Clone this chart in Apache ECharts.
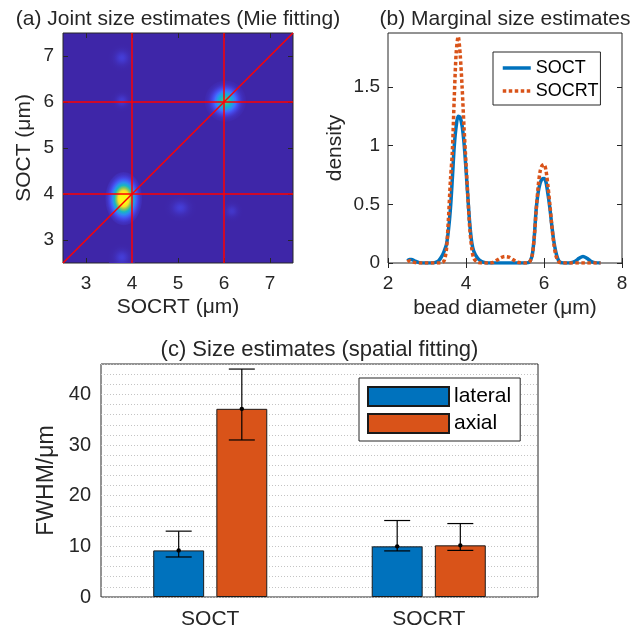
<!DOCTYPE html>
<html>
<head>
<meta charset="utf-8">
<script src="https://cdn.jsdelivr.net/npm/echarts@6/dist/echarts.min.js"></script>
<style>
  html, body { margin: 0; padding: 0; background: #fff; }
  #chart { width: 642px; height: 631px; }
</style>
</head>
<body>
<div id="chart"></div>
<script>
const FONT = '"Liberation Sans", Arial, sans-serif';
const INK = '#262626';

// (a) joint size estimates: density blobs
// centre (um), radius (um) and peak level in colormap units
const blobX = [3.82, 6.03, 3.78, 3.78, 3.78, 5.05, 6.17];
const blobY = [3.90, 6.02, 6.96, 6.03, 2.62, 3.70, 3.63];
const blobRX = [0.40, 0.45, 0.30, 0.25, 0.30, 0.35, 0.25];
const blobRY = [0.58, 0.45, 0.30, 0.25, 0.30, 0.30, 0.25];
const blobPeak = [1.4, 0.62, 0.07, 0.06, 0.07, 0.07, 0.05];
const aTicks = [3, 4, 5, 6, 7];
const refLines = [4, 6];
const aRange = [2.5, 7.5];

// (b) marginal size estimates
const diam = [2.5, 2.55, 2.6, 2.7, 2.8, 2.9, 3.0, 3.1, 3.2, 3.3, 3.4, 3.45, 3.5, 3.55, 3.6, 3.65, 3.7, 3.75, 3.8, 3.85,
  3.9, 3.95, 4.0, 4.05, 4.1, 4.15, 4.2, 4.3, 4.4, 4.5, 4.6, 4.7, 4.8, 4.9, 5.0, 5.1, 5.2, 5.3, 5.4, 5.5,
  5.6, 5.65, 5.7, 5.75, 5.8, 5.85, 5.9, 5.95, 6.0, 6.05, 6.1, 6.15, 6.2, 6.25, 6.3, 6.35, 6.4, 6.5, 6.6, 6.7,
  6.8, 6.9, 7.0, 7.1, 7.2, 7.3, 7.45];
const densSOCT = [0.02, 0.03, 0.03, 0.015, 0.003, 0, 0, 0, 0.003, 0.02, 0.07, 0.11, 0.16, 0.28, 0.46, 0.72, 1.0, 1.17, 1.25, 1.24,
  1.17, 1.02, 0.80, 0.55, 0.32, 0.17, 0.10, 0.04, 0.012, 0.002, 0, 0, 0, 0, 0, 0, 0, 0, 0, 0,
  0.003, 0.02, 0.07, 0.22, 0.46, 0.60, 0.68, 0.715, 0.72, 0.69, 0.59, 0.47, 0.32, 0.19, 0.10, 0.04, 0.01, 0, 0, 0.002,
  0.015, 0.04, 0.055, 0.04, 0.015, 0.003, 0];
const densSOCRT = [0.01, 0.02, 0.015, 0.003, 0, 0, 0, 0, 0, 0, 0.004, 0.03, 0.12, 0.38, 0.70, 0.95, 1.42, 1.80, 1.93, 1.78,
  1.50, 1.15, 0.85, 0.55, 0.28, 0.12, 0.04, 0.005, 0, 0, 0, 0.005, 0.025, 0.045, 0.055, 0.05, 0.03, 0.01, 0.002, 0,
  0.003, 0.02, 0.07, 0.22, 0.45, 0.65, 0.78, 0.83, 0.84, 0.79, 0.66, 0.50, 0.32, 0.17, 0.07, 0.025, 0.005, 0, 0, 0,
  0, 0, 0, 0, 0, 0, 0];
const bTicksX = [2, 4, 6, 8];
const bTicksY = [0, 0.5, 1, 1.5];

// (c) size estimates, spatial fitting
const categories = ['SOCT', 'SOCRT'];
const lateralMean = [9.2, 10.0];
const lateralLow = [7.9, 9.1];
const lateralHigh = [13.0, 15.1];
const axialMean = [37.15, 10.2];
const axialLow = [31.0, 9.2];
const axialHigh = [45.0, 14.5];
const cTicksY = [0, 10, 20, 30, 40];

// parula colormap
const parulaStops = [
  [62, 38, 168], [71, 71, 235], [62, 111, 255], [39, 150, 235], [18, 174, 215], [28, 188, 178],
  [70, 200, 140], [150, 198, 82], [212, 188, 56], [252, 206, 48], [249, 251, 21]
];
function parula(v) {
  v = Math.max(0, Math.min(1, v)) * (parulaStops.length - 1);
  const i = Math.min(Math.floor(v), parulaStops.length - 2), f = v - i;
  const a = parulaStops[i], b = parulaStops[i + 1];
  return 'rgb(' + [0, 1, 2].map(k => Math.round(a[k] + (b[k] - a[k]) * f)).join(',') + ')';
}
const BG = parula(0);

function renderBlob(params, api) {
  const c = api.coord([api.value(0), api.value(1)]);
  const s = api.size([api.value(2), api.value(3)]);
  const peak = api.value(4);
  const stops = [];
  for (let k = 0; k <= 10; k++) {
    const t = k / 10;
    stops.push({ offset: t, color: parula(peak * Math.exp(-4.5 * t * t)) });
  }
  return {
    type: 'circle', x: c[0], y: c[1], scaleY: s[1] / s[0],
    shape: { cx: 0, cy: 0, r: s[0] },
    style: { fill: { type: 'radial', x: 0.5, y: 0.5, r: 0.5, colorStops: stops } }
  };
}

const BAR_W = 0.233, BAR_GAP = 0.24;
function renderErr(params, api) {
  const cat = api.value(0), k = api.value(4);
  const band = api.size([1, 0])[0];
  const dx = (k === 0 ? -1 : 1) * band * BAR_W * (1 + BAR_GAP) / 2;
  const lo = api.coord([cat, api.value(1)]), hi = api.coord([cat, api.value(2)]), mid = api.coord([cat, api.value(3)]);
  const x = lo[0] + dx, cap = 13;
  const st = { stroke: '#000', lineWidth: 1.2 };
  return {
    type: 'group', children: [
      { type: 'line', shape: { x1: x, y1: lo[1], x2: x, y2: hi[1] }, style: st },
      { type: 'line', shape: { x1: x - cap, y1: lo[1], x2: x + cap, y2: lo[1] }, style: st },
      { type: 'line', shape: { x1: x - cap, y1: hi[1], x2: x + cap, y2: hi[1] }, style: st },
      { type: 'circle', shape: { cx: x, cy: mid[1], r: 2.2 }, style: { fill: '#000' } }
    ]
  };
}

const tickFont = { color: INK, fontSize: 19, fontFamily: FONT };
const nameFont = { color: INK, fontSize: 21, fontFamily: FONT };

// one visible axis with labels, one mirrored axis with ticks only
function mainAxis(o) {
  return Object.assign({
    nameLocation: 'middle', nameTextStyle: nameFont,
    axisLine: { show: false },
    axisTick: { inside: true, length: 5, lineStyle: { color: INK } },
    axisLabel: Object.assign({}, tickFont),
    splitLine: { show: false }
  }, o);
}

const blobData = blobX.map((x, i) => [x, blobY[i], blobRX[i], blobRY[i], blobPeak[i]]);
const refSeries = [];
refLines.forEach(v => {
  refSeries.push([[v, aRange[0]], [v, aRange[1]]]);
  refSeries.push([[aRange[0], v], [aRange[1], v]]);
});
refSeries.push([[aRange[0], aRange[0]], [aRange[1], aRange[1]]]);

const errData = [];
categories.forEach((c, i) => {
  errData.push([i, lateralLow[i], lateralHigh[i], lateralMean[i], 0]);
  errData.push([i, axialLow[i], axialHigh[i], axialMean[i], 1]);
});

const chart = echarts.init(document.getElementById('chart'));
chart.setOption({
  animation: false,
  backgroundColor: '#fff',
  textStyle: { fontFamily: FONT },
  grid: [
    { left: 63, top: 33, width: 230, height: 230, show: true, backgroundColor: BG, borderColor: INK, borderWidth: 1, outerBoundsMode: 'none' },
    { left: 388, top: 33, width: 234, height: 230, show: true, backgroundColor: '#fff', borderColor: INK, borderWidth: 1, outerBoundsMode: 'none' },
    { left: 101, top: 364, width: 437, height: 233, show: true, backgroundColor: '#fff', borderColor: INK, borderWidth: 1, outerBoundsMode: 'none' }
  ],
  legend: [
    {
      data: ['SOCT', 'SOCRT'], orient: 'vertical', left: 493, top: 52,
      padding: [7, 2, 5, 8], itemGap: 5, itemWidth: 28, itemHeight: 14,
      itemStyle: { opacity: 0 }, lineStyle: { width: 3.5 },
      backgroundColor: '#fff', borderColor: INK, borderWidth: 1, borderRadius: 0,
      textStyle: { color: '#000', fontSize: 18, fontFamily: FONT }
    },
    {
      data: ['lateral', 'axial'], orient: 'vertical', left: 359, top: 378, icon: 'rect',
      padding: [8, 9, 7, 8], itemGap: 6, itemWidth: 81, itemHeight: 19,
      backgroundColor: '#fff', borderColor: INK, borderWidth: 1, borderRadius: 0,
      textStyle: { color: '#000', fontSize: 21, fontFamily: FONT }
    }
  ],
  xAxis: [
    mainAxis({ gridIndex: 0, type: 'value', min: aRange[0], max: aRange[1], name: 'SOCRT (μm)', nameGap: 34,
      axisTick: { inside: true, length: 5, lineStyle: { color: INK }, customValues: aTicks },
      axisLabel: Object.assign({ margin: 11, customValues: aTicks }, tickFont) }),
    mainAxis({ gridIndex: 0, type: 'value', position: 'top', min: aRange[0], max: aRange[1],
      name: '(a) Joint size estimates (Mie fitting)', nameGap: 3,
      axisTick: { inside: true, length: 5, lineStyle: { color: INK }, customValues: aTicks },
      axisLabel: { show: false } }),
    mainAxis({ gridIndex: 1, type: 'value', min: 2, max: 8, name: 'bead diameter (μm)', nameGap: 35,
      axisTick: { inside: true, length: 5, lineStyle: { color: INK }, customValues: bTicksX },
      axisLabel: Object.assign({ margin: 11, customValues: bTicksX }, tickFont) }),
    mainAxis({ gridIndex: 1, type: 'value', position: 'top', min: 2, max: 8,
      name: '(b) Marginal size estimates', nameGap: 3,
      axisTick: { inside: true, length: 5, lineStyle: { color: INK }, customValues: bTicksX },
      axisLabel: { show: false } }),
    mainAxis({ gridIndex: 2, type: 'category', data: categories,
      axisTick: { inside: true, length: 5, alignWithLabel: true, lineStyle: { color: INK } },
      axisLabel: Object.assign({}, tickFont, { fontSize: 21, margin: 12 }) }),
    mainAxis({ gridIndex: 2, type: 'category', data: categories, position: 'top',
      name: '(c) Size estimates (spatial fitting)', nameGap: 3,
      nameTextStyle: Object.assign({}, nameFont, { fontSize: 22 }),
      axisTick: { inside: true, length: 5, alignWithLabel: true, lineStyle: { color: INK } },
      axisLabel: { show: false } })
  ],
  yAxis: [
    mainAxis({ gridIndex: 0, type: 'value', min: aRange[0], max: aRange[1], name: 'SOCT (μm)', nameGap: 28,
      axisTick: { inside: true, length: 5, lineStyle: { color: INK }, customValues: aTicks },
      axisLabel: Object.assign({ margin: 9, customValues: aTicks }, tickFont) }),
    mainAxis({ gridIndex: 0, type: 'value', position: 'right', min: aRange[0], max: aRange[1],
      axisTick: { inside: true, length: 5, lineStyle: { color: INK }, customValues: aTicks },
      axisLabel: { show: false } }),
    mainAxis({ gridIndex: 1, type: 'value', min: 0, max: 1.96, name: 'density', nameGap: 42,
      axisTick: { inside: true, length: 5, lineStyle: { color: INK }, customValues: bTicksY },
      axisLabel: Object.assign({ margin: 8, customValues: bTicksY }, tickFont) }),
    mainAxis({ gridIndex: 1, type: 'value', position: 'right', min: 0, max: 1.96,
      axisTick: { inside: true, length: 5, lineStyle: { color: INK }, customValues: bTicksY },
      axisLabel: { show: false } }),
    mainAxis({ gridIndex: 2, type: 'value', min: 0, max: 46, name: 'FWHM/μm', nameGap: 40,
      nameTextStyle: Object.assign({}, nameFont, { fontSize: 23 }),
      axisTick: { inside: true, length: 5, lineStyle: { color: INK }, customValues: cTicksY },
      axisLabel: Object.assign({ margin: 10, customValues: cTicksY }, tickFont, { fontSize: 20 }) }),
    mainAxis({ gridIndex: 2, type: 'value', position: 'right', min: 0, max: 46,
      axisTick: { inside: true, length: 5, lineStyle: { color: INK }, customValues: cTicksY },
      axisLabel: { show: false } }),
    // dotted grid every 2 um
    { gridIndex: 2, type: 'value', min: 0, max: 46, interval: 2,
      axisLine: { show: false }, axisTick: { show: false }, axisLabel: { show: false },
      splitLine: { show: true, lineStyle: { color: '#c4c4c4', width: 1, type: [1, 2] } } }
  ],
  series: [
    { type: 'custom', xAxisIndex: 0, yAxisIndex: 0, renderItem: renderBlob, data: blobData, clip: true, silent: true },
    ...refSeries.map(d => ({
      type: 'line', xAxisIndex: 0, yAxisIndex: 0, data: d, symbol: 'none', silent: true,
      lineStyle: { color: '#ff0000', width: 1.5 }
    })),
    {
      name: 'SOCT', type: 'line', xAxisIndex: 2, yAxisIndex: 2, symbol: 'none', smooth: 0.3,
      data: diam.map((x, i) => [x, densSOCT[i]]),
      lineStyle: { color: '#0072BD', width: 3.5 }, itemStyle: { color: '#0072BD' }
    },
    {
      name: 'SOCRT', type: 'line', xAxisIndex: 2, yAxisIndex: 2, symbol: 'none', smooth: 0.3,
      data: diam.map((x, i) => [x, densSOCRT[i]]),
      lineStyle: { color: '#D95319', width: 3.5, type: [3.5, 2.5] }, itemStyle: { color: '#D95319' }
    },
    {
      name: 'lateral', type: 'bar', xAxisIndex: 4, yAxisIndex: 4, data: lateralMean,
      barWidth: (BAR_W * 100) + '%', barGap: (BAR_GAP * 100) + '%',
      itemStyle: { color: '#0072BD', borderColor: '#1a1a1a', borderWidth: 1 }
    },
    {
      name: 'axial', type: 'bar', xAxisIndex: 4, yAxisIndex: 4, data: axialMean,
      barWidth: (BAR_W * 100) + '%', barGap: (BAR_GAP * 100) + '%',
      itemStyle: { color: '#D95319', borderColor: '#1a1a1a', borderWidth: 1 }
    },
    { type: 'custom', xAxisIndex: 4, yAxisIndex: 4, renderItem: renderErr, data: errData, silent: true, z: 5 }
  ]
});
</script>
</body>
</html>
